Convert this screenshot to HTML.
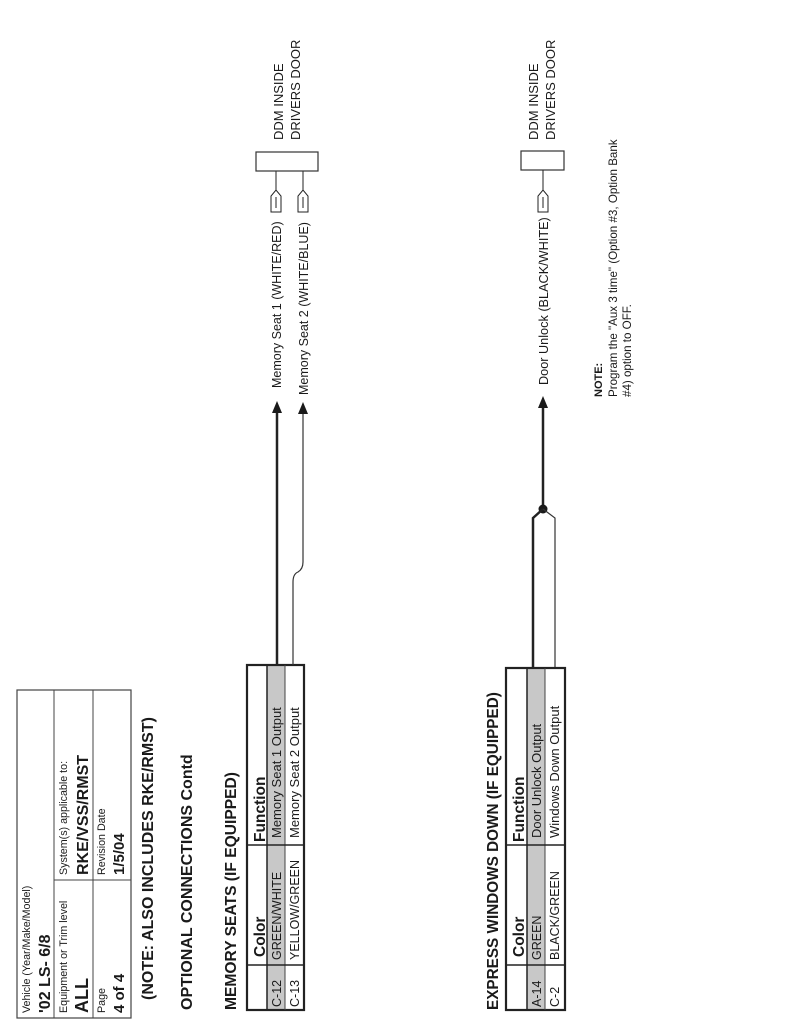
<!DOCTYPE html>
<html><head><meta charset="utf-8"><style>
html,body{margin:0;padding:0;background:#fff;}
svg{display:block;font-family:"Liberation Sans",sans-serif;}
</style></head><body>
<svg width="800" height="1035" viewBox="0 0 800 1035" xmlns="http://www.w3.org/2000/svg">
<g fill="#1a1a1a">
<!-- Title box -->
<rect x="17" y="690" width="114" height="328" fill="none" stroke="#444" stroke-width="1.2"/>
<line x1="54" y1="690" x2="54" y2="1018" stroke="#444" stroke-width="1"/>
<line x1="93" y1="690" x2="93" y2="1018" stroke="#444" stroke-width="1"/>
<line x1="54" y1="880" x2="131" y2="880" stroke="#444" stroke-width="1"/>
<text transform="translate(30,1013) rotate(-90)" font-size="10.7">Vehicle (Year/Make/Model)</text>
<text transform="translate(50,1013) rotate(-90)" font-size="16" font-weight="bold">'02 LS- 6/8</text>
<text transform="translate(67,1013) rotate(-90)" font-size="10.7">Equipment or Trim level</text>
<text transform="translate(88,1013) rotate(-90)" font-size="18" font-weight="bold">ALL</text>
<text transform="translate(67,875) rotate(-90)" font-size="10.7">System(s) applicable to:</text>
<text transform="translate(88,875) rotate(-90)" font-size="16" font-weight="bold">RKE/VSS/RMST</text>
<text transform="translate(105,1013) rotate(-90)" font-size="10.7">Page</text>
<text transform="translate(124,1013) rotate(-90)" font-size="15" font-weight="bold">4 of 4</text>
<text transform="translate(105,875) rotate(-90)" font-size="10.7">Revision Date</text>
<text transform="translate(124,875) rotate(-90)" font-size="15" font-weight="bold">1/5/04</text>

<text transform="translate(153,1000) rotate(-90)" font-size="16" font-weight="bold">(NOTE: ALSO INCLUDES RKE/RMST)</text>
<text transform="translate(192,1010) rotate(-90)" font-size="16" font-weight="bold">OPTIONAL CONNECTIONS Contd</text>
<text transform="translate(236,1010) rotate(-90)" font-size="15.6" font-weight="bold">MEMORY SEATS (IF EQUIPPED)</text>

<!-- Memory table -->
<rect x="267" y="665" width="18" height="345" fill="#c8c8c8"/>
<rect x="247" y="665" width="57" height="345" fill="none" stroke="#222" stroke-width="2.2"/>
<line x1="267" y1="665" x2="267" y2="1010" stroke="#222" stroke-width="1.5"/>
<line x1="285" y1="665" x2="285" y2="1010" stroke="#444" stroke-width="1"/>
<line x1="247" y1="965" x2="304" y2="965" stroke="#222" stroke-width="1.5"/>
<line x1="247" y1="845" x2="304" y2="845" stroke="#222" stroke-width="1.5"/>
<text transform="translate(265,957) rotate(-90)" font-size="15.5" font-weight="bold">Color</text>
<text transform="translate(265,842) rotate(-90)" font-size="15.5" font-weight="bold">Function</text>
<text transform="translate(281,1007) rotate(-90)" font-size="12.5">C-12</text>
<text transform="translate(281,960) rotate(-90)" font-size="12.5">GREEN/WHITE</text>
<text transform="translate(281,838) rotate(-90)" font-size="13">Memory Seat 1 Output</text>
<text transform="translate(299,1007) rotate(-90)" font-size="12.5">C-13</text>
<text transform="translate(299,960) rotate(-90)" font-size="12.5">YELLOW/GREEN</text>
<text transform="translate(299,838) rotate(-90)" font-size="13">Memory Seat 2 Output</text>

<!-- Memory wires -->
<line x1="277" y1="665" x2="277" y2="410" stroke="#222" stroke-width="2.5"/>
<polygon points="277,401 272,413 282,413"/>
<path d="M293,665 L293,582 Q293,574 298,572 Q303,569 303,562 L303,412" fill="none" stroke="#333" stroke-width="1.2"/>
<polygon points="303,402 298,414 308,414"/>
<text transform="translate(281,388) rotate(-90)" font-size="12.5">Memory Seat 1  (WHITE/RED)</text>
<text transform="translate(308,395) rotate(-90)" font-size="12.5">Memory Seat 2 (WHITE/BLUE)</text>
<!-- connectors -->
<path d="M271,212 L281,212 L281,196 L276,190 L271,196 Z" fill="#fff" stroke="#222" stroke-width="1"/>
<line x1="276" y1="197" x2="276" y2="208" stroke="#222" stroke-width="1"/>
<line x1="276" y1="190" x2="276" y2="171" stroke="#222" stroke-width="1"/>
<path d="M298,212 L308,212 L308,196 L303,190 L298,196 Z" fill="#fff" stroke="#222" stroke-width="1"/>
<line x1="303" y1="197" x2="303" y2="208" stroke="#222" stroke-width="1"/>
<line x1="303" y1="190" x2="303" y2="171" stroke="#222" stroke-width="1"/>
<rect x="256" y="152" width="62" height="19" fill="#fff" stroke="#333" stroke-width="1.2"/>
<text transform="translate(283,140) rotate(-90)" font-size="13">DDM INSIDE</text>
<text transform="translate(300,140) rotate(-90)" font-size="13">DRIVERS DOOR</text>

<!-- Door unlock -->
<rect x="521" y="151" width="43" height="19" fill="#fff" stroke="#333" stroke-width="1.2"/>
<line x1="543" y1="170" x2="543" y2="190" stroke="#222" stroke-width="1"/>
<path d="M538,212 L548,212 L548,196 L543,190 L538,196 Z" fill="#fff" stroke="#222" stroke-width="1"/>
<line x1="543" y1="197" x2="543" y2="208" stroke="#222" stroke-width="1"/>
<text transform="translate(548,385) rotate(-90)" font-size="12.7">Door Unlock (BLACK/WHITE)</text>
<text transform="translate(538,140) rotate(-90)" font-size="13">DDM INSIDE</text>
<text transform="translate(555,140) rotate(-90)" font-size="13">DRIVERS DOOR</text>
<line x1="543" y1="509" x2="543" y2="405" stroke="#222" stroke-width="2.5"/>
<polygon points="543,396 538,408 548,408"/>
<circle cx="543" cy="509" r="4.5"/>
<path d="M543,509 L533,518 L533,668" fill="none" stroke="#222" stroke-width="2.5"/>
<path d="M543,509 L555,518 L555,668" fill="none" stroke="#333" stroke-width="1.2"/>

<text transform="translate(602,397) rotate(-90)" font-size="11" font-weight="bold">NOTE:</text>
<text transform="translate(617,397) rotate(-90)" font-size="11.6">Program the "Aux 3 time" (Option #3, Option Bank</text>
<text transform="translate(631,397) rotate(-90)" font-size="11.6">#4) option to OFF.</text>

<!-- Express table -->
<text transform="translate(498,1010) rotate(-90)" font-size="15.3" font-weight="bold">EXPRESS WINDOWS DOWN (IF EQUIPPED)</text>
<rect x="527" y="668" width="18" height="342" fill="#c8c8c8"/>
<rect x="506" y="668" width="59" height="342" fill="none" stroke="#222" stroke-width="2.2"/>
<line x1="527" y1="668" x2="527" y2="1010" stroke="#222" stroke-width="1.5"/>
<line x1="545" y1="668" x2="545" y2="1010" stroke="#444" stroke-width="1"/>
<line x1="506" y1="965" x2="565" y2="965" stroke="#222" stroke-width="1.5"/>
<line x1="506" y1="845" x2="565" y2="845" stroke="#222" stroke-width="1.5"/>
<text transform="translate(524,957) rotate(-90)" font-size="15.5" font-weight="bold">Color</text>
<text transform="translate(524,842) rotate(-90)" font-size="15.5" font-weight="bold">Function</text>
<text transform="translate(541,1007) rotate(-90)" font-size="12.5">A-14</text>
<text transform="translate(541,960) rotate(-90)" font-size="12.5">GREEN</text>
<text transform="translate(541,838) rotate(-90)" font-size="13">Door Unlock Output</text>
<text transform="translate(559,1007) rotate(-90)" font-size="12.5">C-2</text>
<text transform="translate(559,960) rotate(-90)" font-size="12.5">BLACK/GREEN</text>
<text transform="translate(559,838) rotate(-90)" font-size="13">Windows Down Output</text>
</g>
</svg>
</body></html>
